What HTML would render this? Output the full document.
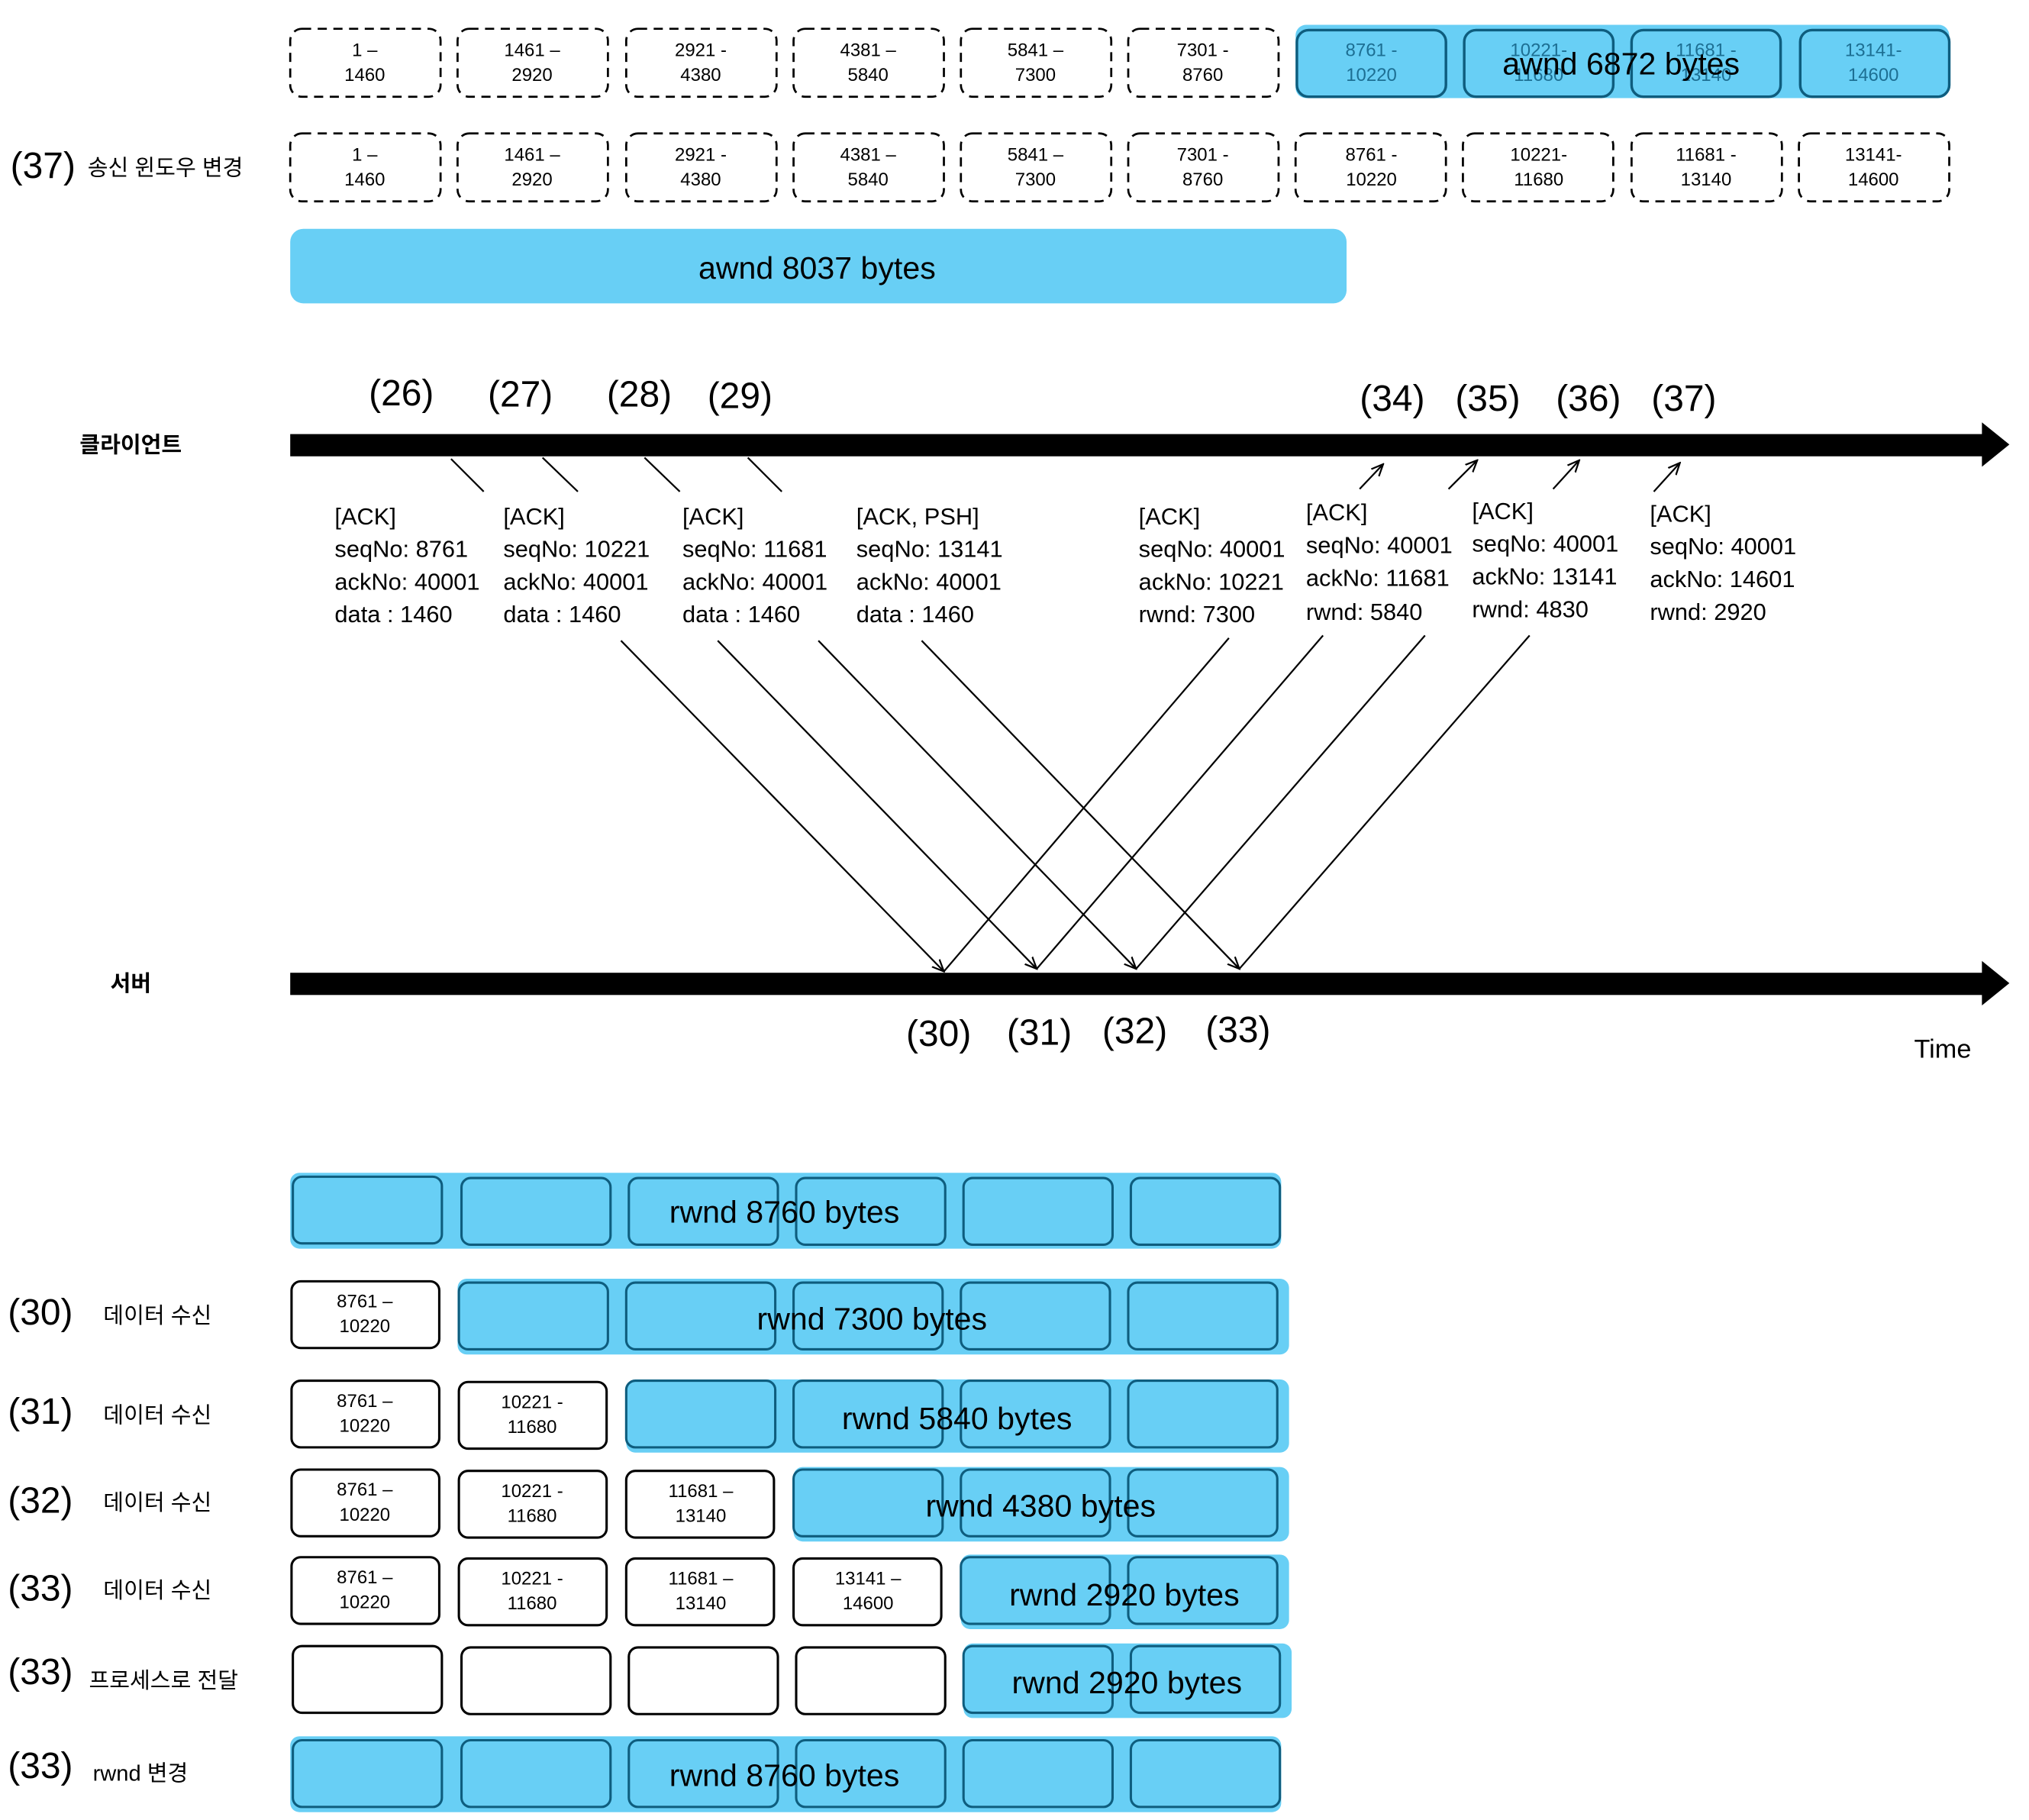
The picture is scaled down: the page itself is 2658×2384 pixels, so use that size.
<!DOCTYPE html>
<html><head><meta charset="utf-8"><style>
html,body{margin:0;padding:0;background:#fff}
svg{display:block}
text{font-family:"Liberation Sans","Noto Sans CJK KR",sans-serif;fill:#000}
</style></head><body>
<svg width="2658" height="2384" viewBox="0 0 1552 1392" xmlns="http://www.w3.org/2000/svg">
<defs>
<marker id="ah" markerWidth="10" markerHeight="10" refX="9" refY="5" orient="auto" markerUnits="userSpaceOnUse"><path d="M0,1 L9,5 L0,9" fill="none" stroke="#000" stroke-width="1.3"/></marker>
</defs>
<!-- Row 1 -->
<rect x="991" y="19" width="500" height="56" rx="8" fill="#68cff5"/>
<g font-size="14" text-anchor="middle">
<g fill="none" stroke="#000" stroke-width="1.6" stroke-dasharray="7,5">
<rect x="222" y="22" width="115" height="52" rx="9"/><rect x="350" y="22" width="115" height="52" rx="9"/><rect x="479" y="22" width="115" height="52" rx="9"/><rect x="607" y="22" width="115" height="52" rx="9"/><rect x="735" y="22" width="115" height="52" rx="9"/><rect x="863" y="22" width="115" height="52" rx="9"/>
</g>
<g fill="#68cff5" stroke="#0e5d7e" stroke-width="2">
<rect x="992" y="23" width="114" height="51" rx="9"/><rect x="1120" y="23" width="114" height="51" rx="9"/><rect x="1248" y="23" width="114" height="51" rx="9"/><rect x="1377" y="23" width="114" height="51" rx="9"/>
</g>
<text x="279" y="43">1 –</text><text x="279" y="62">1460</text>
<text x="407" y="43">1461 –</text><text x="407" y="62">2920</text>
<text x="536" y="43">2921 -</text><text x="536" y="62">4380</text>
<text x="664" y="43">4381 –</text><text x="664" y="62">5840</text>
<text x="792" y="43">5841 –</text><text x="792" y="62">7300</text>
<text x="920" y="43">7301 -</text><text x="920" y="62">8760</text>
<g style="fill:#1d6f93"><text x="1049" y="43" style="fill:#1d6f93">8761 -</text><text x="1049" y="62" style="fill:#1d6f93">10220</text>
<text x="1177" y="43" style="fill:#1d6f93">10221-</text><text x="1177" y="62" style="fill:#1d6f93">11680</text>
<text x="1305" y="43" style="fill:#1d6f93">11681 -</text><text x="1305" y="62" style="fill:#1d6f93">13140</text>
<text x="1433" y="43" style="fill:#1d6f93">13141-</text><text x="1433" y="62" style="fill:#1d6f93">14600</text></g>
<text x="1240" y="57" font-size="24">awnd 6872 bytes</text>
<!-- Row 2 -->
<g fill="none" stroke="#000" stroke-width="1.6" stroke-dasharray="7,5">
<rect x="222" y="102" width="115" height="52" rx="9"/><rect x="350" y="102" width="115" height="52" rx="9"/><rect x="479" y="102" width="115" height="52" rx="9"/><rect x="607" y="102" width="115" height="52" rx="9"/><rect x="735" y="102" width="115" height="52" rx="9"/><rect x="863" y="102" width="115" height="52" rx="9"/><rect x="991" y="102" width="115" height="52" rx="9"/><rect x="1119" y="102" width="115" height="52" rx="9"/><rect x="1248" y="102" width="115" height="52" rx="9"/><rect x="1376" y="102" width="115" height="52" rx="9"/>
</g>
<text x="279" y="123">1 –</text><text x="279" y="142">1460</text>
<text x="407" y="123">1461 –</text><text x="407" y="142">2920</text>
<text x="536" y="123">2921 -</text><text x="536" y="142">4380</text>
<text x="664" y="123">4381 –</text><text x="664" y="142">5840</text>
<text x="792" y="123">5841 –</text><text x="792" y="142">7300</text>
<text x="920" y="123">7301 -</text><text x="920" y="142">8760</text>
<text x="1049" y="123">8761 -</text><text x="1049" y="142">10220</text>
<text x="1177" y="123">10221-</text><text x="1177" y="142">11680</text>
<text x="1305" y="123">11681 -</text><text x="1305" y="142">13140</text>
<text x="1433" y="123">13141-</text><text x="1433" y="142">14600</text>
</g>
<text x="8" y="136" font-size="28">(37)</text>
<text x="67" y="134" font-size="17">송신 윈도우 변경</text>
<rect x="222" y="175" width="808" height="57" rx="10" fill="#68cff5"/>
<text x="625" y="213" font-size="24" text-anchor="middle">awnd 8037 bytes</text>

<!-- Timelines -->
<rect x="222" y="332" width="1300" height="17" fill="#000"/>
<path d="M1516,323 L1537,340 L1516,357 Z" fill="#000"/>
<rect x="222" y="744" width="1300" height="17" fill="#000"/>
<path d="M1516,735 L1537,752 L1516,769 Z" fill="#000"/>
<text x="100" y="346" font-size="17" font-weight="bold" text-anchor="middle">클라이언트</text>
<text x="100" y="758" font-size="17" font-weight="bold" text-anchor="middle">서버</text>
<g font-size="28" text-anchor="middle">
<text x="307" y="310">(26)</text><text x="398" y="311">(27)</text><text x="489" y="311">(28)</text><text x="566" y="312">(29)</text>
<text x="1065" y="314">(34)</text><text x="1138" y="314">(35)</text><text x="1215" y="314">(36)</text><text x="1288" y="314">(37)</text>
<text x="718" y="800">(30)</text><text x="795" y="799">(31)</text><text x="868" y="798">(32)</text><text x="947" y="797">(33)</text>
</g>
<text x="1486" y="809" font-size="20" text-anchor="middle">Time</text>

<g stroke="#000" stroke-width="1.3" fill="none">
<line x1="345" y1="351" x2="370" y2="376"/><line x1="415" y1="350" x2="442" y2="376"/><line x1="493" y1="350" x2="520" y2="376"/><line x1="572" y1="350" x2="598" y2="376"/>
<line x1="1040" y1="374" x2="1058" y2="355" marker-end="url(#ah)"/>
<line x1="1108" y1="374" x2="1130" y2="352" marker-end="url(#ah)"/>
<line x1="1188" y1="374" x2="1208" y2="352" marker-end="url(#ah)"/>
<line x1="1265" y1="376" x2="1285" y2="354" marker-end="url(#ah)"/>
<line x1="475" y1="490" x2="722" y2="743" marker-end="url(#ah)"/>
<line x1="549" y1="490" x2="793" y2="741" marker-end="url(#ah)"/>
<line x1="626" y1="490" x2="869" y2="741" marker-end="url(#ah)"/>
<line x1="705" y1="490" x2="948" y2="741" marker-end="url(#ah)"/>
<line x1="940" y1="488" x2="722" y2="743"/>
<line x1="1012" y1="486" x2="793" y2="741"/>
<line x1="1090" y1="486" x2="869" y2="741"/>
<line x1="1170" y1="486" x2="948" y2="741"/>
</g>
<g font-size="18">
<text x="256" y="401">[ACK]</text><text x="256" y="426">seqNo: 8761</text><text x="256" y="451">ackNo: 40001</text><text x="256" y="476">data : 1460</text>
<text x="385" y="401">[ACK]</text><text x="385" y="426">seqNo: 10221</text><text x="385" y="451">ackNo: 40001</text><text x="385" y="476">data : 1460</text>
<text x="522" y="401">[ACK]</text><text x="522" y="426">seqNo: 11681</text><text x="522" y="451">ackNo: 40001</text><text x="522" y="476">data : 1460</text>
<text x="655" y="401">[ACK, PSH]</text><text x="655" y="426">seqNo: 13141</text><text x="655" y="451">ackNo: 40001</text><text x="655" y="476">data : 1460</text>
<text x="871" y="401">[ACK]</text><text x="871" y="426">seqNo: 40001</text><text x="871" y="451">ackNo: 10221</text><text x="871" y="476">rwnd: 7300</text>
<text x="999" y="398">[ACK]</text><text x="999" y="423">seqNo: 40001</text><text x="999" y="448">ackNo: 11681</text><text x="999" y="474">rwnd: 5840</text>
<text x="1126" y="397">[ACK]</text><text x="1126" y="422">seqNo: 40001</text><text x="1126" y="447">ackNo: 13141</text><text x="1126" y="472">rwnd: 4830</text>
<text x="1262" y="399">[ACK]</text><text x="1262" y="424">seqNo: 40001</text><text x="1262" y="449">ackNo: 14601</text><text x="1262" y="474">rwnd: 2920</text>
</g>

<!-- Bottom section -->
<g fill="#68cff5">
<rect x="222" y="897" width="758" height="58" rx="7"/>
<rect x="350" y="978" width="636" height="58" rx="7"/>
<rect x="479" y="1055" width="507" height="56" rx="7"/>
<rect x="607" y="1122" width="379" height="57" rx="7"/>
<rect x="735" y="1189" width="251" height="57" rx="7"/>
<rect x="737" y="1257" width="251" height="57" rx="7"/>
<rect x="222" y="1328" width="758" height="58" rx="7"/>
</g>
<g fill="#68cff5" stroke="#0e5d7e" stroke-width="1.8">
<rect x="224" y="900" width="114" height="51" rx="7"/><rect x="353" y="901" width="114" height="51" rx="7"/><rect x="481" y="901" width="114" height="51" rx="7"/><rect x="609" y="901" width="114" height="51" rx="7"/><rect x="737" y="901" width="114" height="51" rx="7"/><rect x="865" y="901" width="114" height="51" rx="7"/>
<rect x="351" y="981" width="114" height="51" rx="7"/><rect x="479" y="981" width="114" height="51" rx="7"/><rect x="607" y="981" width="114" height="51" rx="7"/><rect x="735" y="981" width="114" height="51" rx="7"/><rect x="863" y="981" width="114" height="51" rx="7"/>
<rect x="479" y="1056" width="114" height="51" rx="7"/><rect x="607" y="1056" width="114" height="51" rx="7"/><rect x="735" y="1056" width="114" height="51" rx="7"/><rect x="863" y="1056" width="114" height="51" rx="7"/>
<rect x="607" y="1124" width="114" height="51" rx="7"/><rect x="735" y="1124" width="114" height="51" rx="7"/><rect x="863" y="1124" width="114" height="51" rx="7"/>
<rect x="735" y="1191" width="114" height="51" rx="7"/><rect x="863" y="1191" width="114" height="51" rx="7"/>
<rect x="737" y="1259" width="114" height="51" rx="7"/><rect x="865" y="1259" width="114" height="51" rx="7"/>
<rect x="224" y="1331" width="114" height="51" rx="7"/><rect x="353" y="1331" width="114" height="51" rx="7"/><rect x="481" y="1331" width="114" height="51" rx="7"/><rect x="609" y="1331" width="114" height="51" rx="7"/><rect x="737" y="1331" width="114" height="51" rx="7"/><rect x="865" y="1331" width="114" height="51" rx="7"/>
</g>
<g fill="#fff" stroke="#000" stroke-width="1.8">
<rect x="223" y="980" width="113" height="51" rx="7"/>
<rect x="223" y="1056" width="113" height="51" rx="7"/><rect x="351" y="1057" width="113" height="51" rx="7"/>
<rect x="223" y="1124" width="113" height="51" rx="7"/><rect x="351" y="1125" width="113" height="51" rx="7"/><rect x="479" y="1125" width="113" height="51" rx="7"/>
<rect x="223" y="1191" width="113" height="51" rx="7"/><rect x="351" y="1192" width="113" height="51" rx="7"/><rect x="479" y="1192" width="113" height="51" rx="7"/><rect x="607" y="1192" width="113" height="51" rx="7"/>
<rect x="224" y="1259" width="114" height="51" rx="7"/><rect x="353" y="1260" width="114" height="51" rx="7"/><rect x="481" y="1260" width="114" height="51" rx="7"/><rect x="609" y="1260" width="114" height="51" rx="7"/>
</g>
<g font-size="14" text-anchor="middle">
<text x="279" y="1000">8761 –</text><text x="279" y="1019">10220</text>
<text x="279" y="1076">8761 –</text><text x="279" y="1095">10220</text>
<text x="407" y="1077">10221 -</text><text x="407" y="1096">11680</text>
<text x="279" y="1144">8761 –</text><text x="279" y="1163">10220</text>
<text x="407" y="1145">10221 -</text><text x="407" y="1164">11680</text>
<text x="536" y="1145">11681 –</text><text x="536" y="1164">13140</text>
<text x="279" y="1211">8761 –</text><text x="279" y="1230">10220</text>
<text x="407" y="1212">10221 -</text><text x="407" y="1231">11680</text>
<text x="536" y="1212">11681 –</text><text x="536" y="1231">13140</text>
<text x="664" y="1212">13141 –</text><text x="664" y="1231">14600</text>
</g>
<g font-size="24" text-anchor="middle">
<text x="600" y="935">rwnd 8760 bytes</text>
<text x="667" y="1017">rwnd 7300 bytes</text>
<text x="732" y="1093">rwnd 5840 bytes</text>
<text x="796" y="1160">rwnd 4380 bytes</text>
<text x="860" y="1228">rwnd 2920 bytes</text>
<text x="862" y="1295">rwnd 2920 bytes</text>
<text x="600" y="1366">rwnd 8760 bytes</text>
</g>
<g font-size="28">
<text x="6" y="1013">(30)</text><text x="6" y="1089">(31)</text><text x="6" y="1157">(32)</text><text x="6" y="1224">(33)</text><text x="6" y="1288">(33)</text><text x="6" y="1360">(33)</text>
</g>
<g font-size="17">
<text x="79" y="1012">데이터 수신</text><text x="79" y="1088">데이터 수신</text><text x="79" y="1155">데이터 수신</text><text x="79" y="1222">데이터 수신</text>
<text x="68" y="1291">프로세스로 전달</text>
<text x="71" y="1362">rwnd 변경</text>
</g>
</svg>
</body></html>
